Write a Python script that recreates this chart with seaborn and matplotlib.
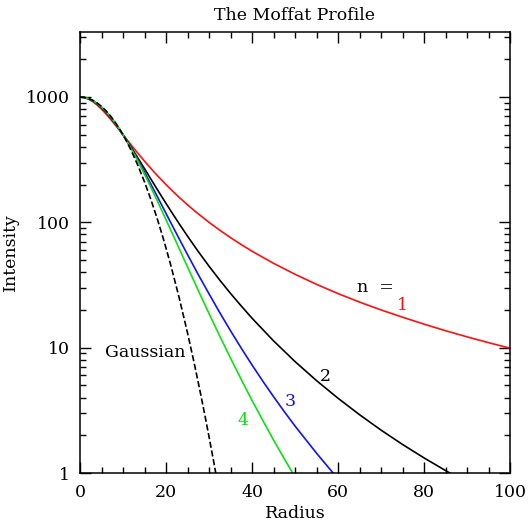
import numpy as np
import pandas as pd
import seaborn as sns
import matplotlib.pyplot as plt
from matplotlib.ticker import FixedLocator, LogLocator, NullFormatter

# values (radius, intensity)
r_n1 = [0, 1, 2, 3, 4, 5, 6, 7, 8, 9, 10, 11, 12, 13, 14, 15, 16, 17, 18, 20, 21, 23, 25, 27,
        30, 32.5, 35, 37.5, 40, 45, 50, 55, 60, 65, 70, 75, 80, 85, 90, 95, 100]
i_n1 = [1000, 990.1, 961.5, 917.4, 862.1, 800, 735.3, 671.1, 609.8, 552.5, 500, 452.5, 409.8,
        371.7, 337.8, 307.7, 280.9, 257.1, 235.8, 200, 184.8, 159.0, 137.9, 120.6,
        100, 86.5, 75.5, 66.4, 58.8, 47.1, 38.5, 32.0, 27.0, 23.1, 20.0, 17.5, 15.4, 13.65,
        12.2, 10.96, 9.9]

r_n2 = [0, 1, 2, 3, 4, 5, 6, 7, 8, 9, 10, 11, 12, 13.5, 15, 16.5, 18, 19.5, 21, 23, 25, 27.5,
        30, 32.5, 35, 37.5, 40, 45, 50, 55, 60, 65, 70, 75, 80, 86, 90]
i_n2 = [1000, 991.8, 967.7, 929.4, 879.5, 821.1, 757.3, 691.0, 624.8, 560.6, 500, 443.7, 392.3,
        324.7, 267.9, 220.9, 182.3, 150.8, 125.1, 98.2, 77.6, 58.5,
        44.7, 34.6, 27.1, 21.5, 17.19, 11.34, 7.75, 5.46, 3.95, 2.92, 2.20, 1.69, 1.32, 0.999, 0.84]

r_n3 = [0, 1, 2, 3, 4, 5, 6, 7, 8, 9, 10, 11, 12, 13.5, 15, 16.5, 18, 19.5, 21, 23, 25, 27.5,
        30, 32.5, 35, 37.5, 40, 42.5, 45, 47.5, 50, 55, 59]
i_n3 = [1000, 992.2, 969.4, 933.0, 884.9, 827.9, 764.6, 697.9, 630.3, 563.7, 500, 440.3, 385.3,
        312.4, 251.2, 200.8, 160.0, 127.2, 101.1, 74.6, 55.3, 38.3,
        26.9, 19.03, 13.65, 9.91, 7.28, 5.41, 4.07, 3.09, 2.37, 1.44, 0.986]

r_n4 = [0, 1, 2, 3, 4, 5, 6, 7, 8, 9, 10, 11, 12, 13.5, 15, 16.5, 18, 19.5, 21, 23, 25, 27.5,
        30, 32.5, 35, 37.5, 40, 42.5, 45, 47.5, 50]
i_n4 = [1000, 992.5, 970.3, 934.7, 887.5, 831.2, 768.3, 701.4, 633.0, 565.3, 500, 438.4, 381.4,
        305.7, 242.0, 189.8, 147.7, 114.4, 88.3, 62.4, 44.1, 28.6,
        18.74, 12.37, 8.25, 5.57, 3.80, 2.63, 1.835, 1.30, 0.927]

r_gauss = [0, 1, 2, 3, 4, 5, 6, 7, 8, 9, 10, 11, 12, 13.5, 15, 16.5, 18, 19.5, 21, 23, 25,
           26.5, 28, 29, 30, 31, 32]
i_gauss = [1000, 993.1, 972.6, 939.5, 895.0, 840.9, 779.2, 712.0, 641.7, 570.4, 500, 432.3, 368.6,
           282.7, 210.2, 151.5, 105.8, 71.7, 47.0, 25.55, 13.13,
           7.69, 4.36, 2.94, 1.95, 1.28, 0.83]

x_ticks = [0, 20, 40, 60, 80, 100]
y_ticks = [1, 10, 100, 1000]
y_ticklabels = ["1", "10", "100", "1000"]

sns.set_style("ticks")
plt.rcParams['font.family'] = ['DejaVu Serif']
plt.rcParams['font.size'] = 12.5
for k in ['text.color', 'axes.labelcolor', 'xtick.color', 'ytick.color', 'axes.edgecolor']:
    plt.rcParams[k] = 'black'

fig = plt.figure(figsize=(5.29, 5.27), dpi=100)
ax = fig.add_axes([80/529, 1 - 473/527, 430/529, 441/527])

curves = [(r_n1, i_n1, "#ff1010", "-"),
          (r_n2, i_n2, "black", "-"),
          (r_n3, i_n3, "#1010ff", "-"),
          (r_n4, i_n4, "#10e010", "-"),
          (r_gauss, i_gauss, "black", "--")]
for rr, ii, col, ls in curves:
    df = pd.DataFrame({"Radius": rr, "Intensity": ii})
    sns.lineplot(data=df, x="Radius", y="Intensity", ax=ax, color=col,
                 linestyle=ls, linewidth=1.2, sort=False, estimator=None)

ax.set_yscale("log")
ax.set_xlim(0, 100)
ax.set_ylim(1, 3300)
ax.set_xticks(x_ticks)
ax.xaxis.set_minor_locator(FixedLocator(np.arange(0, 101, 5)))
ax.set_yticks(y_ticks)
ax.set_yticklabels(y_ticklabels)
ax.yaxis.set_minor_locator(LogLocator(base=10, subs=np.arange(2, 10)))
ax.yaxis.set_minor_formatter(NullFormatter())

ax.tick_params(which="both", direction="in", top=True, right=True, width=1, labelsize=12.5)
ax.tick_params(which="major", length=8)
ax.tick_params(axis="x", which="major", pad=8)
ax.tick_params(axis="y", which="major", pad=7)
ax.tick_params(which="minor", length=4)
for s in ax.spines.values():
    s.set_linewidth(1.1)

ax.set_xlabel("Radius", fontsize=12.5, labelpad=3)
ax.set_ylabel("Intensity", fontsize=12.5, labelpad=5)
ax.set_title("The Moffat Profile", fontsize=12.5, pad=9)

ax.text(68.6, 30.3, "n  =", ha="center", va="center", fontsize=12.5)
ax.text(74.9, 21.8, "1", color="#ff1010", ha="center", va="center", fontsize=12.5)
ax.text(57, 5.93, "2", color="black", ha="center", va="center", fontsize=12.5)
ax.text(48.8, 3.75, "3", color="#1010ff", ha="center", va="center", fontsize=12.5)
ax.text(37.9, 2.6, "4", color="#10e010", ha="center", va="center", fontsize=12.5)
ax.text(15.1, 9.2, "Gaussian", ha="center", va="center", fontsize=12.5)

fig.savefig("out.png", dpi=100)
